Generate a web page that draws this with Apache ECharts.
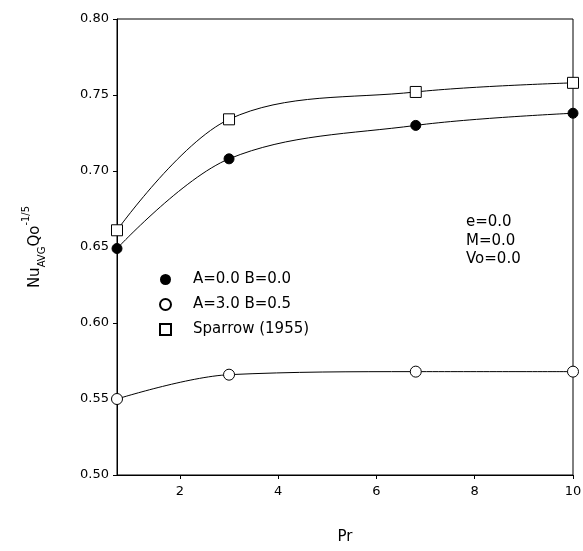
<!DOCTYPE html>
<html>
<head>
<meta charset="utf-8">
<script src="https://cdn.jsdelivr.net/npm/echarts@6/dist/echarts.min.js"></script>
<style>
  html, body { margin: 0; padding: 0; background: #fff; }
  #chart { width: 583px; height: 551px; }
</style>
</head>
<body>
<div id="chart"></div>
<script>
// Pr values
var prValues = [0.72, 3, 6.8, 10];
// Nu_avg Qo^-1/5 per case
var caseA0B0 = [0.649, 0.708, 0.730, 0.738];
var caseA3B05 = [0.550, 0.566, 0.568, 0.568];
var sparrow = [0.661, 0.734, 0.752, 0.758];
var seriesNames = ['A=0.0 B=0.0', 'A=3.0 B=0.5', 'Sparrow (1955)'];
var legendIcons = ['circle', 'circle', 'rect'];
var xTicks = [2, 4, 6, 8, 10];

function pairs(ys) {
  return prValues.map(function (x, i) { return [x, ys[i]]; });
}

var font = 'DejaVu Sans, Liberation Sans, sans-serif';
var chart = echarts.init(document.getElementById('chart'));

var option = {
  animation: false,
  grid: {
    left: 117, right: 10, top: 19, bottom: 76,
    outerBoundsMode: 'none',
    show: true, borderColor: '#000', borderWidth: 1
  },
  legend: {
    orient: 'vertical',
    left: 154,
    top: 267,
    itemGap: 10,
    itemWidth: 11,
    itemHeight: 11,
    textStyle: { fontFamily: font, fontSize: 15, color: '#000', padding: [0, 0, 0, 17] },
    data: seriesNames.map(function (n, i) { return { name: n, icon: legendIcons[i] }; })
  },
  xAxis: {
    type: 'value',
    min: 0.72,
    max: 10,
    name: 'Pr',
    nameLocation: 'middle',
    nameGap: 55,
    nameTextStyle: { fontFamily: font, fontSize: 15, color: '#000' },
    axisLine: { lineStyle: { color: '#000' } },
    axisTick: { show: true, length: 4, customValues: xTicks, lineStyle: { color: '#000' } },
    axisLabel: { customValues: xTicks, fontFamily: font, fontSize: 13, color: '#000', margin: 10 },
    splitLine: { show: false }
  },
  yAxis: {
    type: 'value',
    min: 0.5,
    max: 0.8,
    interval: 0.05,
    name: '{b|Nu}{s|AVG}{b|Qo}{p|-1/5}',
    nameLocation: 'middle',
    nameGap: 74,
    nameTextStyle: {
      fontFamily: font, color: '#000',
      rich: {
        b: { fontFamily: font, fontSize: 15, color: '#000', verticalAlign: 'bottom', lineHeight: 18 },
        s: { fontFamily: font, fontSize: 10, color: '#000', verticalAlign: 'bottom', padding: [0, 0, -4, 0], lineHeight: 18 },
        p: { fontFamily: font, fontSize: 10, color: '#000', verticalAlign: 'top', padding: [-4, 0, 0, 0], lineHeight: 18 }
      }
    },
    axisLine: { show: true, lineStyle: { color: '#000' } },
    axisTick: { show: true, length: 4, lineStyle: { color: '#000' } },
    axisLabel: {
      fontFamily: font, fontSize: 13, color: '#000', margin: 8,
      formatter: function (v) { return v.toFixed(2); }
    },
    splitLine: { show: false }
  },
  graphic: [{
    type: 'text',
    left: 466,
    top: 213,
    style: {
      text: 'e=0.0\nM=0.0\nVo=0.0',
      font: '15px ' + font,
      fill: '#000',
      lineHeight: 18.5
    }
  }],
  series: [
    {
      name: seriesNames[0], type: 'line', smooth: 0.35,
      data: pairs(caseA0B0),
      symbol: 'circle', symbolSize: 10,
      lineStyle: { color: '#000', width: 1 },
      itemStyle: { color: '#000', borderColor: '#000' }
    },
    {
      name: seriesNames[1], type: 'line', smooth: 0.35,
      data: pairs(caseA3B05),
      symbol: 'circle', symbolSize: 11,
      lineStyle: { color: '#000', width: 1 },
      itemStyle: { color: '#fff', borderColor: '#000', borderWidth: 1 }
    },
    {
      name: seriesNames[2], type: 'line', smooth: 0.35,
      data: pairs(sparrow),
      symbol: 'rect', symbolSize: 11,
      lineStyle: { color: '#000', width: 1 },
      itemStyle: { color: '#fff', borderColor: '#000', borderWidth: 1 }
    }
  ]
};

chart.setOption(option);
</script>
</body>
</html>
